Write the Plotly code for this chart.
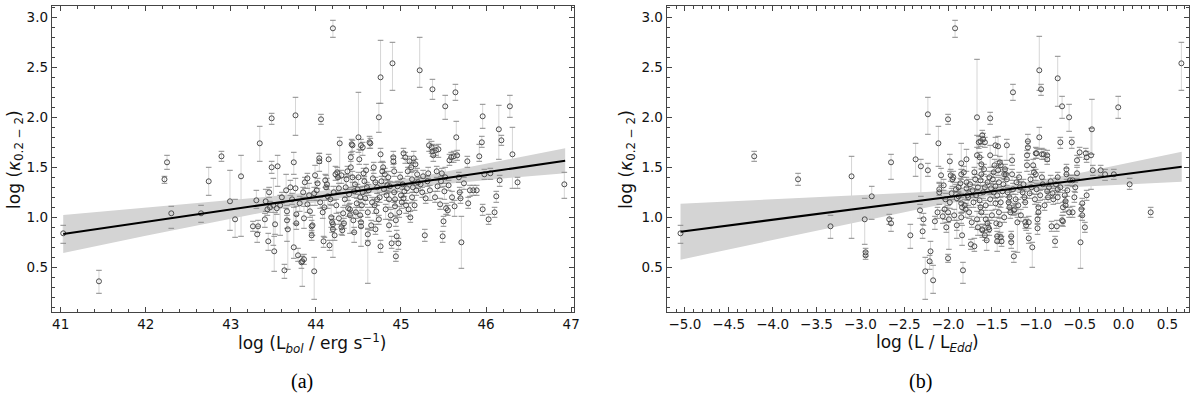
import plotly.graph_objects as go

# ---------------- Panel (a): log L_bol vs log kappa ----------------
x_a = [41.03, 41.45, 42.22, 42.25, 42.30, 42.65, 42.74, 42.89, 42.99, 43.05,
       43.12, 43.26, 43.30, 43.31, 43.32, 43.34, 43.41, 43.43, 43.44, 43.46,
       43.48, 43.48, 43.50, 43.51, 43.52, 43.54, 43.55, 43.58, 43.63, 43.65,
       43.66, 43.66, 43.67, 43.70, 43.74, 43.74, 43.76, 43.76, 43.77, 43.77,
       43.79, 43.81, 43.83, 43.84, 43.86, 43.86, 43.87, 43.90, 43.90, 43.92,
       43.95, 43.95, 43.96, 43.98, 43.98, 43.99, 44.01, 44.04, 44.04, 44.06,
       44.08, 44.09, 44.10, 44.11, 44.12, 44.14, 44.15, 44.18, 44.19, 44.20,
       44.20, 44.21, 44.22, 44.23, 44.25, 44.26, 44.28, 44.30, 44.30, 44.31,
       44.32, 44.33, 44.35, 44.36, 44.38, 44.40, 44.40, 44.41, 44.41, 44.42,
       44.44, 44.46, 44.48, 44.50, 44.50, 44.51, 44.52, 44.52, 44.53, 44.53,
       44.55, 44.55, 44.57, 44.59, 44.61, 44.61, 44.61, 44.63, 44.64, 44.65,
       44.67, 44.69, 44.72, 44.74, 44.72, 44.74, 44.76, 44.76, 44.76, 44.78,
       44.79, 44.80, 44.82, 44.84, 44.86, 44.89, 44.90, 44.91, 44.91, 44.92,
       44.92, 44.93, 44.93, 44.94, 44.94, 44.95, 44.96, 44.97, 44.98, 45.00,
       45.02, 45.03, 45.05, 45.06, 45.07, 45.08, 45.09, 45.10, 45.11, 45.12,
       45.13, 45.14, 45.15, 45.16, 45.17, 45.19, 45.20, 45.22, 45.26, 45.28,
       45.32, 45.34, 45.36, 45.37, 45.37, 45.38, 45.40, 45.42, 45.44, 45.46,
       45.48, 45.49, 45.50, 45.51, 45.52, 45.52, 45.53, 45.55, 45.57, 45.59,
       45.62, 45.63, 45.64, 45.65, 45.66, 45.69, 45.70, 45.71, 45.78, 45.79,
       45.81, 45.85, 45.89, 45.92, 45.95, 45.96, 45.96, 45.98, 46.03, 46.05,
       46.10, 46.12, 46.15, 46.16, 46.18, 46.28, 46.31, 46.37, 46.92, 44.20,
       44.43, 44.53, 45.03, 45.33, 45.41, 44.60, 44.70, 44.85, 45.25, 44.45,
       44.05, 44.13, 44.17, 44.24, 44.27, 44.34, 44.37, 44.39, 44.43, 44.47,
       44.49, 44.54, 44.56, 44.58, 44.62, 44.66, 44.68, 44.71, 44.75, 44.77,
       44.81, 44.83, 44.87, 44.88, 44.99, 45.01, 45.04, 45.13, 45.18, 45.23,
       45.29, 45.31, 45.43, 45.47, 45.56, 45.60, 45.68, 45.74, 43.60, 43.72,
       43.85, 43.93, 44.02, 43.45, 43.40, 44.16, 44.27, 44.45, 44.70, 44.86]
y_a = [0.84, 0.36, 1.38, 1.55, 1.04, 1.04, 1.36, 1.61, 1.16, 0.98,
       1.41, 0.91, 1.17, 0.83, 0.91, 1.74, 1.16, 1.08, 0.76, 1.10,
       1.99, 1.50, 1.12, 0.66, 0.93, 1.09, 1.51, 1.12, 0.47, 1.27,
       1.06, 0.97, 0.88, 1.30, 1.55, 0.70, 2.02, 1.29, 1.03, 0.94,
       0.62, 1.14, 0.55, 0.56, 0.58, 0.99, 1.35, 1.39, 1.13, 1.22,
       0.91, 0.82, 0.92, 0.46, 1.24, 1.42, 1.27, 1.59, 1.56, 1.98,
       1.05, 0.76, 1.10, 1.37, 1.30, 1.21, 1.58, 1.00, 0.95, 0.88,
       0.93, 1.25, 0.82, 1.43, 1.45, 1.40, 1.74, 1.42, 0.90, 0.87,
       1.04, 0.94, 1.30, 1.38, 1.09, 1.02, 1.08, 1.60, 1.50, 1.73,
       0.97, 1.33, 1.14, 1.80, 1.40, 1.58, 1.20, 1.02, 0.95, 0.91,
       1.70, 1.25, 1.36, 1.47, 0.74, 0.83, 1.05, 1.75, 1.74, 0.92,
       1.39, 1.12, 1.30, 2.00, 1.18, 0.98, 2.40, 0.71, 1.63, 1.46,
       1.50, 1.28, 1.08, 1.32, 1.18, 0.74, 2.54, 1.60, 1.56, 1.46,
       1.25, 1.18, 1.11, 0.97, 0.61, 0.81, 1.31, 0.74, 1.05, 1.22,
       1.33, 1.19, 1.60, 1.12, 1.29, 1.46, 1.08, 1.56, 1.00, 1.50,
       1.38, 1.30, 1.59, 1.12, 1.53, 1.43, 1.35, 2.47, 1.41, 0.82,
       1.44, 1.27, 1.70, 2.28, 1.66, 1.62, 1.20, 1.46, 1.68, 1.13,
       1.44, 0.81, 0.96, 1.26, 2.11, 1.40, 1.09, 1.07, 1.57, 1.60,
       1.61, 1.11, 2.25, 1.80, 1.62, 1.25, 1.19, 0.75, 1.56, 1.14,
       1.27, 1.27, 1.27, 1.61, 1.75, 2.01, 1.08, 1.43, 0.98, 1.44,
       1.05, 1.21, 1.88, 1.37, 1.77, 2.11, 1.63, 1.35, 1.33, 2.89,
       1.72, 1.72, 1.64, 1.72, 1.67, 1.30, 1.35, 1.40, 1.25, 1.26,
       1.15, 1.33, 1.18, 1.12, 1.29, 1.18, 1.46, 1.23, 1.40, 1.05,
       1.28, 1.12, 1.44, 1.19, 1.27, 1.15, 1.50, 1.06, 1.20, 1.36,
       1.43, 1.22, 1.31, 1.02, 1.40, 1.15, 1.26, 1.20, 1.27, 1.33,
       1.19, 1.36, 1.31, 1.36, 1.32, 1.20, 1.40, 1.34, 1.20, 1.18,
       1.25, 1.06, 1.34, 1.25, 0.98, 0.72, 0.99, 0.85, 0.88, 0.92]
ep_a = [0.08, 0.11, 0.03, 0.07, 0.07, 0.08, 0.14, 0.05, 0.31, 0.20,
        0.21, 0.05, 0.10, 0.08, 0.06, 0.17, 0.12, 0.05, 0.08, 0.06,
        0.05, 0.06, 0.27, 0.15, 0.12, 0.05, 0.11, 0.10, 0.06, 0.16,
        0.06, 0.05, 0.10, 0.07, 0.10, 0.40, 0.18, 0.10, 0.08, 0.08,
        0.07, 0.07, 0.06, 0.05, 0.05, 0.12, 0.05, 0.05, 0.06, 0.12,
        0.06, 0.05, 0.10, 0.14, 0.06, 0.10, 0.08, 0.05, 0.08, 0.05,
        0.05, 0.05, 0.07, 0.06, 0.12, 0.10, 0.05, 0.12, 0.06, 0.05,
        0.05, 0.06, 0.06, 0.08, 0.05, 0.06, 0.06, 0.05, 0.06, 0.04,
        0.06, 0.05, 0.10, 0.05, 0.08, 0.05, 0.06, 0.05, 0.06, 0.05,
        0.08, 0.07, 0.05, 0.45, 0.05, 0.10, 0.10, 0.08, 0.06, 0.05,
        0.05, 0.06, 0.05, 0.06, 0.14, 0.06, 0.05, 0.06, 0.05, 0.05,
        0.08, 0.06, 0.05, 0.14, 0.06, 0.04, 0.37, 0.06, 0.06, 0.10,
        0.05, 0.06, 0.05, 0.05, 0.08, 0.07, 0.21, 0.06, 0.05, 0.08,
        0.10, 0.07, 0.06, 0.05, 0.05, 0.06, 0.05, 0.05, 0.06, 0.10,
        0.06, 0.05, 0.05, 0.05, 0.05, 0.04, 0.06, 0.05, 0.06, 0.05,
        0.08, 0.06, 0.07, 0.05, 0.05, 0.06, 0.05, 0.33, 0.06, 0.06,
        0.06, 0.05, 0.06, 0.10, 0.07, 0.05, 0.06, 0.05, 0.05, 0.06,
        0.05, 0.05, 0.05, 0.05, 0.11, 0.10, 0.05, 0.05, 0.06, 0.05,
        0.05, 0.06, 0.08, 0.16, 0.05, 0.05, 0.06, 0.26, 0.05, 0.06,
        0.05, 0.05, 0.05, 0.12, 0.06, 0.12, 0.05, 0.05, 0.05, 0.05,
        0.05, 0.05, 0.24, 0.05, 0.05, 0.11, 0.27, 0.05, 0.12, 0.08,
        0.05, 0.06, 0.05, 0.06, 0.05, 0.05, 0.05, 0.06, 0.05, 0.05,
        0.05, 0.06, 0.05, 0.06, 0.05, 0.06, 0.05, 0.05, 0.06, 0.05,
        0.05, 0.06, 0.05, 0.05, 0.06, 0.05, 0.05, 0.06, 0.05, 0.05,
        0.06, 0.05, 0.05, 0.06, 0.05, 0.05, 0.06, 0.05, 0.05, 0.06,
        0.05, 0.05, 0.06, 0.05, 0.05, 0.06, 0.05, 0.06, 0.05, 0.06,
        0.05, 0.06, 0.05, 0.05, 0.06, 0.05, 0.06, 0.05, 0.05, 0.06]
em_a = [0.10, 0.12, 0.04, 0.07, 0.15, 0.09, 0.14, 0.05, 0.29, 0.18,
        0.60, 0.05, 0.08, 0.08, 0.06, 0.18, 0.10, 0.06, 0.09, 0.05,
        0.06, 0.06, 0.40, 0.20, 0.10, 0.06, 0.20, 0.30, 0.08, 0.18,
        0.30, 0.08, 0.40, 0.08, 0.12, 0.11, 0.20, 0.35, 0.10, 0.06,
        0.06, 0.08, 0.06, 0.25, 0.05, 0.10, 0.06, 0.10, 0.08, 0.05,
        0.06, 0.05, 0.10, 0.28, 0.07, 0.30, 0.10, 0.05, 0.10, 0.05,
        0.06, 0.06, 0.30, 0.07, 0.08, 0.12, 0.40, 0.10, 0.10, 0.28,
        0.05, 0.08, 0.05, 0.06, 0.05, 0.15, 0.35, 0.08, 0.07, 0.05,
        0.10, 0.05, 0.10, 0.10, 0.08, 0.18, 0.06, 0.30, 0.08, 0.10,
        0.12, 0.07, 0.10, 0.15, 0.30, 0.05, 0.05, 0.06, 0.05, 0.20,
        0.08, 0.07, 0.05, 0.30, 0.40, 0.06, 0.05, 0.06, 0.05, 0.05,
        0.10, 0.08, 0.06, 0.15, 0.06, 0.05, 0.26, 0.06, 0.08, 0.15,
        0.06, 0.05, 0.10, 0.08, 0.08, 0.05, 0.27, 0.07, 0.06, 0.05,
        0.10, 0.06, 0.10, 0.06, 0.05, 0.05, 0.05, 0.06, 0.05, 0.05,
        0.05, 0.05, 0.06, 0.08, 0.05, 0.05, 0.07, 0.06, 0.05, 0.05,
        0.05, 0.05, 0.05, 0.05, 0.06, 0.05, 0.06, 0.17, 0.05, 0.06,
        0.05, 0.10, 0.06, 0.10, 0.05, 0.06, 0.05, 0.06, 0.08, 0.05,
        0.05, 0.06, 0.05, 0.08, 0.13, 0.06, 0.06, 0.05, 0.05, 0.05,
        0.06, 0.10, 0.08, 0.17, 0.05, 0.06, 0.05, 0.26, 0.06, 0.05,
        0.06, 0.05, 0.05, 0.05, 0.05, 0.12, 0.06, 0.05, 0.05, 0.06,
        0.05, 0.06, 0.30, 0.06, 0.05, 0.11, 0.34, 0.06, 0.14, 0.09,
        0.06, 0.05, 0.05, 0.06, 0.05, 0.05, 0.06, 0.05, 0.05, 0.06,
        0.06, 0.05, 0.05, 0.08, 0.05, 0.06, 0.05, 0.10, 0.05, 0.06,
        0.05, 0.05, 0.05, 0.06, 0.05, 0.05, 0.06, 0.10, 0.05, 0.05,
        0.05, 0.05, 0.06, 0.05, 0.05, 0.06, 0.05, 0.05, 0.05, 0.06,
        0.05, 0.05, 0.05, 0.06, 0.05, 0.05, 0.05, 0.06, 0.06, 0.05,
        0.05, 0.06, 0.05, 0.05, 0.08, 0.05, 0.06, 0.10, 0.05, 0.06]

fit_x_a = [41.03, 46.93]
fit_y_a = [0.834, 1.565]
band_x_a = [41.03, 42.0, 43.0, 43.8, 44.6, 45.4, 46.2, 46.93]
band_lo_a = [0.644, 0.815, 0.988, 1.121, 1.239, 1.322, 1.389, 1.440]
band_hi_a = [1.024, 1.095, 1.172, 1.237, 1.319, 1.436, 1.569, 1.690]

# ---------------- Panel (b): log L/L_Edd vs log kappa ----------------
x_b = [-5.05, -4.21, -3.71, -3.34, -3.10, -2.95, -2.94, -2.94, -2.87, -2.67,
       -2.65, -2.65, -2.43, -2.37, -2.32, -2.31, -2.29, -2.28, -2.26, -2.23,
       -2.23, -2.21, -2.20, -2.17, -2.15, -2.11, -2.10, -2.10, -2.08, -2.06,
       -2.04, -2.03, -2.00, -2.00, -2.00, -1.99, -1.98, -1.97, -1.95, -1.94,
       -1.92, -1.91, -1.90, -1.88, -1.85, -1.85, -1.85, -1.84, -1.85, -1.84,
       -1.83, -1.81, -1.80, -1.79, -1.79, -1.79, -1.78, -1.77, -1.74, -1.70,
       -1.67, -1.67, -1.67, -1.66, -1.65, -1.63, -1.61, -1.60, -1.58, -1.64,
       -1.63, -1.62, -1.62, -1.63, -1.62, -1.61, -1.61, -1.58, -1.56, -1.57,
       -1.55, -1.54, -1.53, -1.52, -1.52, -1.51, -1.49, -1.47, -1.46, -1.46,
       -1.45, -1.44, -1.44, -1.43, -1.42, -1.41, -1.43, -1.40, -1.40, -1.40,
       -1.39, -1.41, -1.35, -1.36, -1.34, -1.33, -1.30, -1.30, -1.31, -1.28,
       -1.28, -1.27, -1.27, -1.26, -1.25, -1.25, -1.24, -1.21, -1.20, -1.18,
       -1.15, -1.12, -1.11, -1.10, -1.10, -1.09, -1.09, -1.08, -1.08, -1.04,
       -1.03, -1.02, -1.00, -1.00, -0.99, -0.97, -0.97, -0.98, -0.98, -0.96,
       -0.96, -0.94, -0.93, -0.91, -0.87, -0.87, -0.87, -0.86, -0.82, -0.78,
       -0.76, -0.75, -0.75, -0.75, -0.75, -0.72, -0.70, -0.70, -0.69, -0.69,
       -0.67, -0.66, -0.66, -0.65, -0.65, -0.62, -0.62, -0.61, -0.59, -0.58,
       -0.58, -0.53, -0.53, -0.50, -0.49, -0.48, -0.47, -0.47, -0.44, -0.43,
       -0.42, -0.42, -0.37, -0.36, -0.35, -0.26, -0.21, -0.11, -0.06, 0.07,
       0.31, 0.66, -1.88, -1.72, -1.58, -1.48, -1.37, -1.22, -1.05, -0.92,
       -0.83, -0.55, -1.96, -1.13, -0.80, -1.70, -1.53,
       -2.12, -2.05, -2.02, -1.98, -1.93, -1.90, -1.86, -1.82, -1.76, -1.75,
       -1.73, -1.71, -1.69, -1.68, -1.66, -1.64, -1.60, -1.59, -1.57, -1.55,
       -1.52, -1.50, -1.48, -1.46, -1.44, -1.42, -1.38, -1.36, -1.33, -1.32,
       -1.29, -1.26, -1.23, -1.19, -1.17, -1.14, -1.12, -1.07, -1.06, -1.01,
       -0.99, -0.95, -0.93, -0.90, -0.85, -0.81, -0.77, -0.72, -0.64, -0.56]
y_b = [0.84, 1.61, 1.38, 0.91, 1.41, 0.98, 0.65, 0.62, 1.21, 0.98,
       0.94, 1.55, 0.82, 1.58, 1.07, 1.51, 0.86, 0.98, 0.46, 1.47,
       2.03, 0.56, 0.66, 0.37, 0.96, 1.74, 1.25, 1.28, 1.42, 1.01,
       1.08, 1.18, 1.98, 0.59, 1.05, 0.98, 1.56, 1.42, 1.38, 1.40,
       2.89, 1.28, 1.19, 1.21, 1.54, 1.43, 1.14, 1.10, 1.00, 0.82,
       0.47, 1.12, 1.08, 1.29, 1.35, 1.58, 1.22, 1.20, 0.73, 0.71,
       2.00, 1.62, 0.98, 0.90, 1.75, 1.76, 1.82, 1.78, 1.75, 1.60,
       1.37, 1.43, 1.53, 1.10, 1.05, 0.88, 0.87, 0.82, 0.77, 0.98,
       0.94, 0.90, 0.88, 1.99, 1.62, 1.29, 1.38, 1.52, 1.72, 1.14,
       0.94, 0.81, 0.76, 1.47, 1.35, 1.55, 1.71, 1.52, 1.15, 0.80,
       0.76, 0.93, 1.48, 1.43, 1.43, 1.72, 1.10, 1.20, 1.15, 0.81,
       0.75, 1.57, 1.43, 2.25, 0.61, 1.07, 1.08, 0.95, 1.12, 1.30,
       1.25, 0.95, 0.92, 1.52, 1.62, 1.70, 1.76, 0.79, 0.95, 0.70,
       1.52, 1.45, 1.43, 1.64, 1.64, 1.10, 1.05, 0.98, 0.89, 2.47,
       1.80, 2.28, 1.63, 1.63, 1.62, 1.58, 1.26, 1.20, 0.91, 0.76,
       0.91, 1.40, 1.28, 1.20, 2.39, 1.75, 2.11, 0.97, 0.96, 1.10,
       1.22, 1.16, 1.12, 1.43, 1.48, 2.00, 1.05, 1.37, 1.75, 1.05,
       1.37, 1.57, 1.44, 1.65, 0.75, 1.08, 1.14, 1.02, 0.90, 1.64,
       1.60, 1.22, 1.62, 1.88, 1.47, 1.47, 1.43, 1.43, 2.10, 1.33,
       1.05, 2.54, 1.30, 1.27, 1.30, 1.25, 1.33, 1.35, 1.30, 1.33,
       1.36, 1.30, 1.24, 1.20, 1.18, 1.45, 1.40,
       1.05, 1.32, 0.90, 1.15, 1.02, 0.92, 1.34, 1.45, 1.05, 1.33,
       0.95, 1.15, 1.38, 1.22, 1.30, 1.17, 1.25, 1.48, 1.12, 1.35,
       1.18, 1.02, 1.45, 1.31, 1.22, 1.05, 1.26, 1.00, 1.38, 1.25,
       1.05, 1.28, 1.18, 1.40, 1.02, 1.33, 1.15, 1.24, 1.38, 1.18,
       1.28, 1.22, 1.40, 1.12, 1.30, 1.24, 1.33, 1.30, 1.27, 1.20]
ep_b = [0.08, 0.05, 0.06, 0.11, 0.20, 0.21, 0.04, 0.04, 0.10, 0.05,
        0.05, 0.08, 0.11, 0.16, 0.06, 0.07, 0.07, 0.06, 0.14, 0.07,
        0.17, 0.06, 0.10, 0.15, 0.05, 0.17, 0.10, 0.06, 0.07, 0.06,
        0.10, 0.06, 0.05, 0.04, 0.07, 0.05, 0.07, 0.06, 0.05, 0.06,
        0.08, 0.05, 0.06, 0.05, 0.20, 0.05, 0.06, 0.05, 0.05, 0.10,
        0.08, 0.06, 0.06, 0.05, 0.05, 0.10, 0.05, 0.06, 0.05, 0.08,
        0.58, 0.20, 0.08, 0.06, 0.06, 0.05, 0.05, 0.06, 0.05, 0.05,
        0.05, 0.06, 0.07, 0.05, 0.05, 0.05, 0.06, 0.05, 0.05, 0.05,
        0.06, 0.07, 0.06, 0.06, 0.10, 0.05, 0.06, 0.06, 0.08, 0.05,
        0.06, 0.05, 0.05, 0.05, 0.05, 0.06, 0.10, 0.05, 0.05, 0.05,
        0.05, 0.06, 0.05, 0.05, 0.06, 0.06, 0.06, 0.05, 0.06, 0.05,
        0.06, 0.06, 0.05, 0.08, 0.05, 0.05, 0.06, 0.05, 0.06, 0.06,
        0.05, 0.05, 0.06, 0.05, 0.05, 0.06, 0.07, 0.05, 0.06, 0.05,
        0.06, 0.05, 0.05, 0.06, 0.05, 0.05, 0.06, 0.05, 0.05, 0.34,
        0.10, 0.05, 0.06, 0.05, 0.05, 0.05, 0.05, 0.06, 0.05, 0.05,
        0.06, 0.05, 0.06, 0.05, 0.22, 0.05, 0.10, 0.05, 0.06, 0.05,
        0.05, 0.05, 0.05, 0.06, 0.05, 0.13, 0.05, 0.05, 0.05, 0.06,
        0.05, 0.05, 0.06, 0.05, 0.26, 0.05, 0.05, 0.06, 0.05, 0.05,
        0.06, 0.05, 0.27, 0.30, 0.05, 0.05, 0.05, 0.05, 0.11, 0.06,
        0.05, 0.21, 0.05, 0.06, 0.05, 0.05, 0.06, 0.05, 0.05, 0.05,
        0.06, 0.05, 0.05, 0.06, 0.05, 0.05, 0.06,
        0.05, 0.06, 0.05, 0.05, 0.06, 0.05, 0.05, 0.06, 0.05, 0.05,
        0.06, 0.05, 0.05, 0.06, 0.05, 0.05, 0.06, 0.05, 0.05, 0.06,
        0.05, 0.05, 0.06, 0.05, 0.05, 0.06, 0.05, 0.05, 0.06, 0.05,
        0.05, 0.06, 0.05, 0.05, 0.06, 0.05, 0.05, 0.06, 0.05, 0.05,
        0.06, 0.05, 0.05, 0.06, 0.05, 0.05, 0.06, 0.05, 0.05, 0.06]
em_b = [0.10, 0.05, 0.06, 0.12, 0.62, 0.25, 0.04, 0.04, 0.23, 0.05,
        0.08, 0.17, 0.13, 0.17, 0.08, 0.30, 0.07, 0.06, 0.28, 0.06,
        0.20, 0.08, 0.12, 0.13, 0.08, 0.23, 0.12, 0.06, 0.10, 0.07,
        0.10, 0.08, 0.05, 0.04, 0.10, 0.30, 0.10, 0.06, 0.07, 0.05,
        0.09, 0.06, 0.40, 0.05, 0.30, 0.05, 0.10, 0.05, 0.06, 0.10,
        0.13, 0.05, 0.08, 0.06, 0.05, 0.12, 0.05, 0.08, 0.05, 0.05,
        0.30, 0.35, 0.10, 0.08, 0.06, 0.05, 0.05, 0.05, 0.05, 0.06,
        0.05, 0.05, 0.05, 0.06, 0.05, 0.08, 0.05, 0.05, 0.10, 0.06,
        0.06, 0.05, 0.06, 0.06, 0.12, 0.05, 0.05, 0.06, 0.10, 0.06,
        0.05, 0.06, 0.10, 0.05, 0.05, 0.05, 0.15, 0.06, 0.05, 0.06,
        0.05, 0.10, 0.05, 0.05, 0.05, 0.15, 0.05, 0.05, 0.06, 0.05,
        0.06, 0.05, 0.06, 0.08, 0.06, 0.05, 0.05, 0.30, 0.08, 0.05,
        0.05, 0.06, 0.05, 0.06, 0.05, 0.06, 0.05, 0.05, 0.06, 0.20,
        0.05, 0.05, 0.06, 0.05, 0.05, 0.06, 0.05, 0.05, 0.06, 0.20,
        0.12, 0.06, 0.05, 0.05, 0.06, 0.05, 0.06, 0.05, 0.05, 0.06,
        0.05, 0.05, 0.05, 0.06, 0.28, 0.06, 0.12, 0.05, 0.05, 0.05,
        0.06, 0.05, 0.06, 0.05, 0.05, 0.14, 0.05, 0.05, 0.06, 0.05,
        0.06, 0.05, 0.05, 0.05, 0.26, 0.06, 0.05, 0.05, 0.05, 0.06,
        0.05, 0.05, 0.34, 0.25, 0.05, 0.05, 0.06, 0.05, 0.11, 0.05,
        0.05, 0.27, 0.05, 0.05, 0.06, 0.05, 0.05, 0.05, 0.06, 0.05,
        0.05, 0.05, 0.06, 0.05, 0.05, 0.05, 0.06,
        0.06, 0.05, 0.05, 0.06, 0.05, 0.05, 0.05, 0.05, 0.06, 0.05,
        0.05, 0.05, 0.06, 0.05, 0.05, 0.05, 0.06, 0.05, 0.05, 0.05,
        0.06, 0.05, 0.05, 0.05, 0.06, 0.05, 0.05, 0.05, 0.06, 0.05,
        0.06, 0.05, 0.05, 0.05, 0.06, 0.05, 0.05, 0.05, 0.06, 0.05,
        0.05, 0.05, 0.06, 0.05, 0.05, 0.05, 0.06, 0.05, 0.06, 0.05]

fit_x_b = [-5.05, 0.664]
fit_y_b = [0.856, 1.506]
band_x_b = [-5.05, -4.0, -3.0, -2.2, -1.3, -0.5, 0.664]
band_lo_b = [0.576, 0.772, 0.959, 1.105, 1.248, 1.305, 1.356]
band_hi_b = [1.136, 1.178, 1.219, 1.255, 1.318, 1.443, 1.656]

# ---------------- Figure ----------------
W, H = 1200, 397
FONT = "DejaVu Sans"
AX_COL = "#444444"

fig = go.Figure()


def add_panel(xs, ys, ep, em, fx, fy, bx, blo, bhi, xa, ya):
    n = min(len(xs), len(ys), len(ep), len(em))
    xs, ys, ep, em = xs[:n], ys[:n], ep[:n], em[:n]
    # confidence band
    fig.add_trace(go.Scatter(
        x=bx + bx[::-1], y=bhi + blo[::-1], fill="toself",
        fillcolor="#d4d4d4", line=dict(width=0), mode="lines",
        hoverinfo="skip", showlegend=False, xaxis=xa, yaxis=ya))
    # error bar stems
    fig.add_trace(go.Scatter(
        x=xs, y=ys, mode="markers", marker=dict(size=1, opacity=0),
        error_y=dict(type="data", symmetric=False, array=ep, arrayminus=em,
                     color="#d6d6d6", thickness=1, width=0),
        hoverinfo="skip", showlegend=False, xaxis=xa, yaxis=ya))
    # caps
    cap_x = xs + xs
    cap_y = [y + e for y, e in zip(ys, ep)] + [y - e for y, e in zip(ys, em)]
    fig.add_trace(go.Scatter(
        x=cap_x, y=cap_y, mode="markers",
        marker=dict(symbol="line-ew", size=4, color="#8a8a8a",
                    line=dict(width=1, color="#8a8a8a")),
        hoverinfo="skip", showlegend=False, xaxis=xa, yaxis=ya))
    # points
    fig.add_trace(go.Scatter(
        x=xs, y=ys, mode="markers",
        marker=dict(symbol="circle-open", size=5, color="#4d4d4d",
                    line=dict(width=1)),
        showlegend=False, xaxis=xa, yaxis=ya))
    # fit line
    fig.add_trace(go.Scatter(
        x=fx, y=fy, mode="lines", line=dict(color="black", width=2),
        hoverinfo="skip", showlegend=False, xaxis=xa, yaxis=ya))


add_panel(x_a, y_a, ep_a, em_a, fit_x_a, fit_y_a,
          band_x_a, band_lo_a, band_hi_a, "x", "y")
add_panel(x_b, y_b, ep_b, em_b, fit_x_b, fit_y_b,
          band_x_b, band_lo_b, band_hi_b, "x2", "y2")

y_dom = [(H - 312) / H, (H - 6) / H]


def axis_style(**kw):
    d = dict(showline=True, linecolor=AX_COL, linewidth=1, mirror="allticks",
             ticks="inside", ticklen=5, tickwidth=1, tickcolor=AX_COL,
             showgrid=False, zeroline=False,
             tickfont=dict(family=FONT, size=13.5, color="#111111"))
    d.update(kw)
    return d


fig.update_layout(
    width=W, height=H, margin=dict(l=0, r=0, t=0, b=0),
    paper_bgcolor="white", plot_bgcolor="white",
    xaxis=axis_style(domain=[52 / W, 577 / W], range=[40.895, 47.035],
                     tick0=41, dtick=1, anchor="y",
                     minor=dict(ticks="inside", ticklen=3, dtick=0.2,
                                tickcolor=AX_COL, tickwidth=1)),
    yaxis=axis_style(domain=y_dom, range=[0.053, 3.113], tick0=0, dtick=0.5,
                     tickformat=".1f", anchor="x",
                     minor=dict(ticks="inside", ticklen=3, dtick=0.1,
                                tickcolor=AX_COL, tickwidth=1)),
    xaxis2=axis_style(domain=[670 / W, 1195 / W], range=[-5.208, 0.747],
                      tick0=0, dtick=0.5, tickformat=".1f", anchor="y2",
                      minor=dict(ticks="inside", ticklen=3, dtick=0.1,
                                 tickcolor=AX_COL, tickwidth=1)),
    yaxis2=axis_style(domain=y_dom, range=[0.053, 3.113], tick0=0, dtick=0.5,
                      tickformat=".1f", anchor="x2",
                      minor=dict(ticks="inside", ticklen=3, dtick=0.1,
                                 tickcolor=AX_COL, tickwidth=1)),
)

title_font = dict(family=FONT, size=17, color="#111111")
cap_font = dict(family="Liberation Serif, Times New Roman, serif", size=20,
                color="black")
annots = [
    dict(text="log (L<sub><i>bol</i></sub> / erg s<sup>\u22121</sup>)",
         x=314.5 / W, y=1 - 343 / H, font=title_font),
    dict(text="log (L / L<sub><i>Edd</i></sub>)",
         x=932.5 / W, y=1 - 343 / H, font=title_font),
    dict(text="log (<i>\u03ba</i><sub>0.2 \u2212 2</sub>)",
         x=15 / W, y=1 - 159 / H, textangle=-90, font=title_font),
    dict(text="log (<i>\u03ba</i><sub>0.2 \u2212 2</sub>)",
         x=630 / W, y=1 - 159 / H, textangle=-90, font=title_font),
    dict(text="(a)", x=304 / W, y=1 - 381 / H, font=cap_font),
    dict(text="(b)", x=925 / W, y=1 - 381 / H, font=cap_font),
]
for a in annots:
    a.update(xref="paper", yref="paper", showarrow=False,
             xanchor="center", yanchor="middle")
fig.update_layout(annotations=annots)

fig.write_html(
    "out.html",
    config={"displayModeBar": False},
    post_script="document.body.style.margin='0';"
                "document.body.style.overflow='hidden';")
